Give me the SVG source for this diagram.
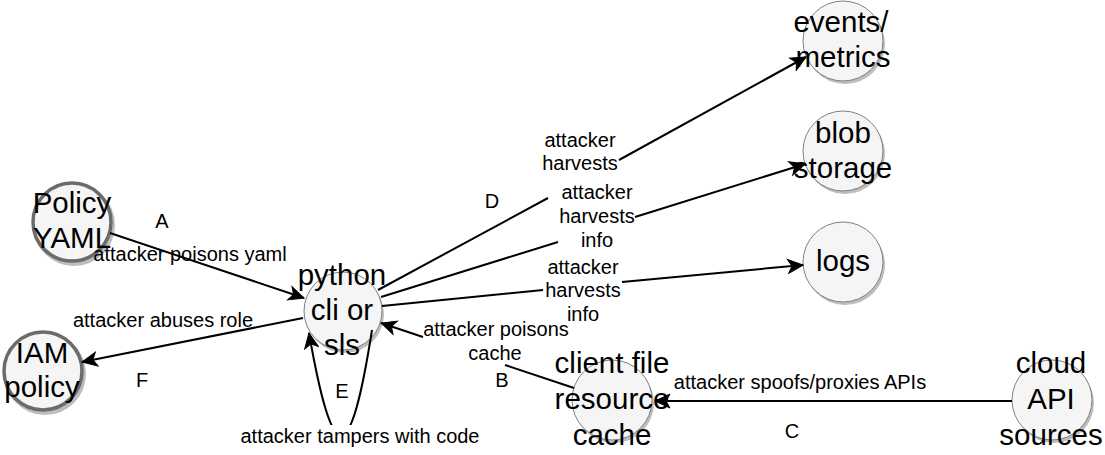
<svg xmlns="http://www.w3.org/2000/svg" width="1105" height="455" viewBox="0 0 1105 455">
  <defs>
    <style>
      .shadow { fill: #bdbdbd; stroke: none; }
      .node { fill: #f5f5f5; stroke: #808080; stroke-width: 1; }
      .node.thick { stroke: #6b6b6b; stroke-width: 3.5; }
      .ntext { font-family: "Liberation Sans", Arial, sans-serif; font-size: 29.5px; fill: #000; text-anchor: middle; }
      .edge { fill: none; stroke: #000; stroke-width: 2; marker-end: url(#arrow); }
      .elabel { font-family: "Liberation Sans", Arial, sans-serif; font-size: 20px; fill: #000; text-anchor: middle; }
      .lbg { fill: #fff; stroke: none; }
    </style>
    <marker id="arrow" markerUnits="userSpaceOnUse" viewBox="-16 -8 17 16" refX="0" refY="0" markerWidth="17" markerHeight="16" orient="auto">
      <path d="M0,0 L-15,-7 L-11,0 L-15,7 Z" fill="#000" stroke="#000" stroke-width="1"/>
    </marker>
  </defs>
  <rect width="1105" height="455" fill="#fff"/>

  <g id="node-policy-yaml">
    <circle class="shadow" cx="74" cy="225" r="41"/>
    <circle class="node thick" cx="72" cy="222" r="39"/>
    <text class="ntext" x="72" y="213">Policy</text>
    <text class="ntext" x="72" y="248">YAML</text>
  </g>
  <g id="node-iam-policy">
    <circle class="shadow" cx="45" cy="374" r="41"/>
    <circle class="node thick" cx="43" cy="371" r="39"/>
    <text class="ntext" x="42" y="363">IAM</text>
    <text class="ntext" x="42" y="397">policy</text>
  </g>
  <g id="node-python">
    <circle class="shadow" cx="345" cy="314" r="39"/>
    <circle class="node" cx="343" cy="311" r="39"/>
    <text class="ntext" x="342" y="285">python</text>
    <text class="ntext" x="342" y="320">cli or</text>
    <text class="ntext" x="342" y="355">sls</text>
  </g>
  <g id="node-events-metrics">
    <circle class="shadow" cx="845" cy="44" r="40"/>
    <circle class="node" cx="843" cy="41" r="40"/>
    <text class="ntext" x="841" y="32">events/</text>
    <text class="ntext" x="843" y="67">metrics</text>
  </g>
  <g id="node-blob-storage">
    <circle class="shadow" cx="845" cy="154" r="40"/>
    <circle class="node" cx="843" cy="151" r="40"/>
    <text class="ntext" x="843" y="143">blob</text>
    <text class="ntext" x="843" y="178">storage</text>
  </g>
  <g id="node-logs">
    <circle class="shadow" cx="845" cy="265" r="40"/>
    <circle class="node" cx="843" cy="262" r="40"/>
    <text class="ntext" x="843" y="271">logs</text>
  </g>
  <g id="node-client-cache">
    <circle class="shadow" cx="614" cy="403" r="40"/>
    <circle class="node" cx="612" cy="400" r="40"/>
    <text class="ntext" x="612" y="373">client file</text>
    <text class="ntext" x="612" y="409">resource</text>
    <text class="ntext" x="612" y="445">cache</text>
  </g>
  <g id="node-cloud-api">
    <circle class="shadow" cx="1054" cy="403" r="40"/>
    <circle class="node" cx="1052" cy="400" r="40"/>
    <text class="ntext" x="1051" y="373">cloud</text>
    <text class="ntext" x="1051" y="409">API</text>
    <text class="ntext" x="1051" y="445">sources</text>
  </g>

  <g id="connectors">
    <!-- A -->
    <path class="edge" d="M110 233 L304 298"/>
    <!-- F -->
    <path class="edge" d="M303 318 L82 362"/>
    <!-- E loop -->
    <path class="edge" d="M372 330 C350 470 333 470 309 333"/>
    <!-- B -->
    <path class="edge" d="M574 388 L505 365 M423 337 L381 323"/>
    <!-- C -->
    <path class="edge" d="M1012 401 L655 401"/>
    <!-- D1 -->
    <path class="edge" d="M378 290 L548 198 M619 160 L806 57"/>
    <!-- D2 -->
    <path class="edge" d="M381 297 L558 242 M635 217 L805 164"/>
    <!-- D3 -->
    <path class="edge" d="M382 306 L543 290 M622 282 L803 265"/>
  </g>

  <g id="edge-labels">
    <text class="elabel" x="162" y="228">A</text>
    <text class="elabel" x="190" y="261">attacker poisons yaml</text>

    <text class="elabel" x="163" y="327">attacker abuses role</text>
    <text class="elabel" x="142" y="387">F</text>

    <text class="elabel" x="342" y="398">E</text>
    <rect class="lbg" x="238" y="425" width="244" height="24"/>
    <text class="elabel" x="360" y="443">attacker tampers with code</text>

    <text class="elabel" x="496" y="336">attacker poisons</text>
    <text class="elabel" x="495" y="360">cache</text>
    <text class="elabel" x="502" y="387">B</text>

    <text class="elabel" x="800" y="389">attacker spoofs/proxies APIs</text>
    <text class="elabel" x="792" y="438">C</text>

    <text class="elabel" x="492" y="208">D</text>
    <text class="elabel" x="580" y="147">attacker</text>
    <text class="elabel" x="580" y="170">harvests</text>
    <text class="elabel" x="597" y="199">attacker</text>
    <text class="elabel" x="597" y="223">harvests</text>
    <text class="elabel" x="597" y="247">info</text>
    <text class="elabel" x="583" y="274">attacker</text>
    <text class="elabel" x="583" y="297">harvests</text>
    <text class="elabel" x="583" y="321">info</text>
  </g>
</svg>
